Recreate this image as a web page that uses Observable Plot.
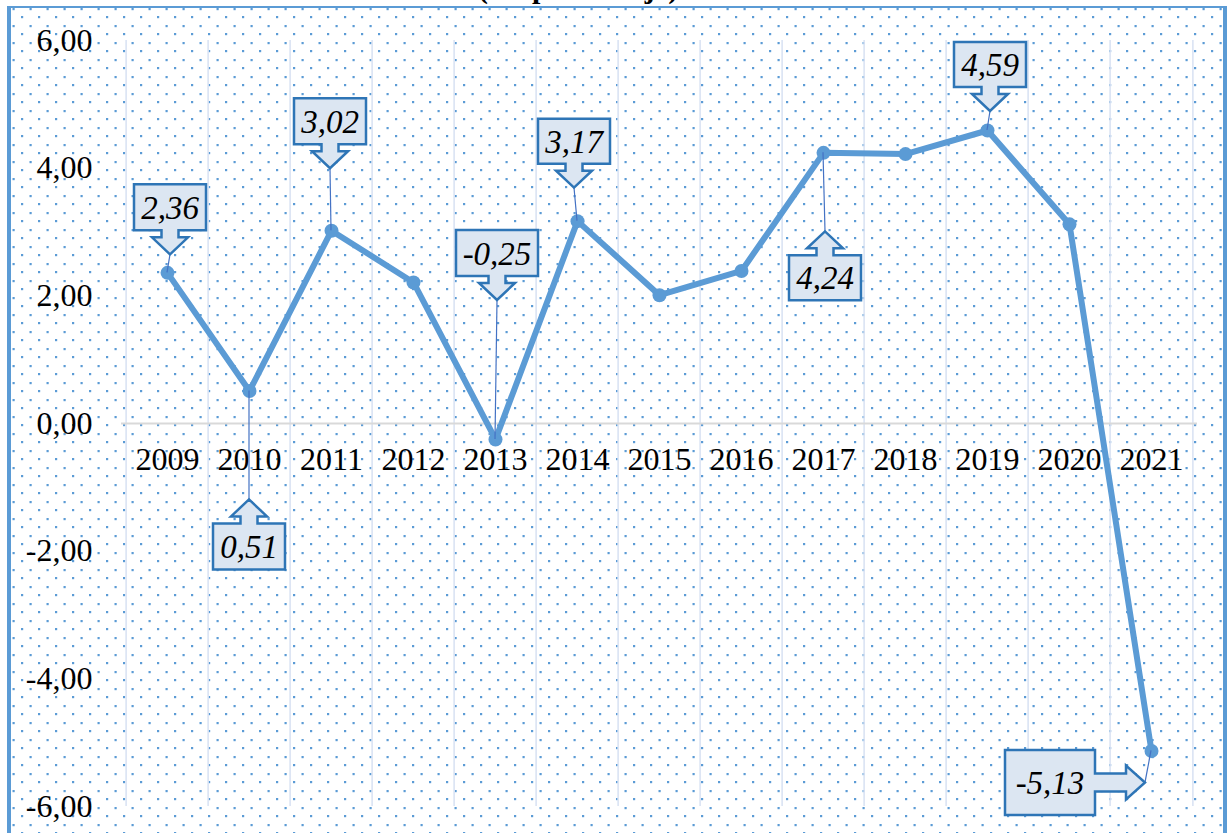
<!DOCTYPE html>
<html><head><meta charset="utf-8">
<script src="https://cdn.jsdelivr.net/npm/d3@7"></script>
<script src="https://cdn.jsdelivr.net/npm/@observablehq/plot@0.6"></script>
<style>
body{margin:0;background:#fff;}
#wrap{position:relative;width:1231px;height:833px;overflow:hidden;background:#fff;}
#title{position:absolute;left:0;width:1156px;top:-27px;text-align:center;font-family:"Liberation Serif","Times New Roman",serif;font-weight:bold;font-size:30px;line-height:30px;color:#000;}
#frame{position:absolute;left:7px;top:6px;width:1212px;height:900px;border-left:4px solid #5b9bd5;border-top:2.5px solid #5b9bd5;border-right:4px solid #5b9bd5;
background-image:url("data:image/svg+xml;utf8,<svg xmlns='http://www.w3.org/2000/svg' width='17' height='17'><rect x='10' y='8' width='2.2' height='2.2' fill='%235b9bd5'/><rect x='1.5' y='0' width='2.2' height='2.2' fill='%235b9bd5'/></svg>");background-size:17px 17px;}
#chart{position:absolute;left:0;top:0;}
#chart svg, #chart svg text{font-family:"Liberation Serif","Times New Roman",serif !important;}
</style></head>
<body>
<div id="wrap">
  <div id="frame"></div>
  <div id="title">(En porcentaje)</div>
  <div id="chart"></div>
</div>
<script>
// ---- data ----
const years = ["2009","2010","2011","2012","2013","2014","2015","2016","2017","2018","2019","2020","2021"];
const values = [2.36, 0.51, 3.02, 2.21, -0.25, 3.17, 2.01, 2.39, 4.24, 4.22, 4.59, 3.12, -5.13];
const yTicks = [-6, -4, -2, 0, 2, 4, 6];
const calloutYears = ["2009","2010","2011","2013","2014","2017","2019","2021"];
const calloutLabels = ["2,36","0,51","3,02","-0,25","3,17","4,24","4,59","-5,13"];

// ---- callout layout (pixels, relative to the point) ----
const calloutLayout = {
  "2009": {dir: "down", dx: 3,  dy: -18, w: 72, h: 46},
  "2010": {dir: "up",   dx: 0,  dy: 109, w: 72, h: 46},
  "2011": {dir: "down", dx: -1, dy: -62, w: 72, h: 46},
  "2013": {dir: "down", dx: 2,  dy: -139, w: 82, h: 46},
  "2014": {dir: "down", dx: -3, dy: -33, w: 72, h: 45},
  "2017": {dir: "up",   dx: 2,  dy: 79,  w: 72, h: 45},
  "2019": {dir: "down", dx: 3,  dy: -19, w: 72, h: 45},
  "2021": {dir: "right",dx: -6, dy: 32,  w: 90, h: 65}
};

const blue = "#5b9bd5";
const serif = "'Liberation Serif', 'Times New Roman', serif";
const step = (1197 - 121) / years.length;
const data = years.map((y, i) => ({year: y, value: values[i]}));

function calloutPath(tx, ty, c) {
  const nw = 8.5, hw = 18, nl = 7, hl = 17;
  if (c.dir === "down") {
    const yb = ty - hl - nl, x0 = tx - c.w / 2, y0 = yb - c.h;
    return {d: `M${x0},${y0}H${x0 + c.w}V${yb}H${tx + nw}V${yb + nl}H${tx + hw}L${tx},${ty}L${tx - hw},${yb + nl}H${tx - nw}V${yb}H${x0}Z`,
      cx: tx, cy: y0 + c.h / 2};
  }
  if (c.dir === "up") {
    const yt = ty + hl + nl, x0 = tx - c.w / 2, y1 = yt + c.h;
    return {d: `M${x0},${y1}H${x0 + c.w}V${yt}H${tx + nw}V${yt - nl}H${tx + hw}L${tx},${ty}L${tx - hw},${yt - nl}H${tx - nw}V${yt}H${x0}Z`,
      cx: tx, cy: yt + c.h / 2};
  }
  const nh = 9, hh = 17, nlen = 31, hlen = 19;
  const xr = tx - hlen - nlen, x0 = xr - c.w, y0 = ty - c.h / 2;
  return {d: `M${x0},${y0}H${xr}V${ty - nh}H${xr + nlen}V${ty - hh}L${tx},${ty}L${xr + nlen},${ty + hh}V${ty + nh}H${xr}V${y0 + c.h}H${x0}Z`,
    cx: x0 + c.w / 2, cy: ty};
}

function callouts(index, scales) {
  const g = d3.create("svg:g");
  calloutYears.forEach((yr, i) => {
    const v = values[years.indexOf(yr)];
    const px = scales.x(yr), py = scales.y(v);
    const c = calloutLayout[yr];
    const tx = px + c.dx, ty = py + c.dy;
    g.append("line").attr("x1", tx).attr("y1", ty).attr("x2", px).attr("y2", py)
      .attr("stroke", "#4472c4").attr("stroke-width", 1.2);
    const p = calloutPath(tx, ty, c);
    g.append("path").attr("d", p.d).attr("fill", "#dce6f2").attr("stroke", "#2e75b6").attr("stroke-width", 2.5);
    g.append("text").attr("x", p.cx).attr("y", p.cy).attr("dy", "0.35em")
      .attr("text-anchor", "middle").attr("font-style", "italic").attr("font-size", 33)
      .attr("font-family", serif).attr("fill", "#000").text(calloutLabels[i]);
  });
  return g.node();
}

const chart = Plot.plot({
  width: 1231, height: 833,
  marginLeft: 121, marginRight: 34, marginTop: 40, marginBottom: 27,
  style: {background: "transparent", fontFamily: serif, fontSize: "32px", color: "#000", overflow: "visible"},
  x: {type: "point", domain: years, padding: 0.5, axis: null},
  y: {domain: [-6, 6], ticks: yTicks, tickFormat: d => d.toFixed(2).replace(".", ","), tickSize: 0, tickPadding: 29, label: null},
  marks: [
    Plot.ruleX(years, {x: d => d, dx: -step / 2, stroke: "#dae3f3", strokeWidth: 1.6}),
    Plot.ruleX([years[years.length - 1]], {x: d => d, dx: step / 2, stroke: "#dae3f3", strokeWidth: 1.6}),
    Plot.ruleY([0], {stroke: "#d9d9d9", strokeWidth: 2}),
    Plot.text(years, {x: d => d, y: years.map(() => 0), text: d => d, dy: 36, fontSize: 32, fontFamily: serif, fill: "#000"}),
    Plot.line(data, {x: "year", y: "value", stroke: blue, strokeWidth: 6, strokeLinejoin: "round"}),
    Plot.dot(data, {x: "year", y: "value", r: 7, fill: blue, stroke: "none"}),
    callouts
  ]
});
document.getElementById("chart").appendChild(chart);
</script>
</body></html>
